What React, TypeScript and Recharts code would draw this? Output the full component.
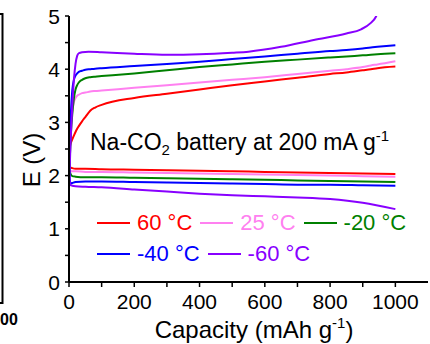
import React from "react";
import { LineChart, Line, XAxis, YAxis, Legend } from "recharts";

// ---------- data ----------
const seriesLabels = ["60 °C", "25 °C", "-20 °C", "-40 °C", "-60 °C"];
const seriesColors = ["#ff0000", "#ff80f0", "#008000", "#0000ff", "#8800ff"];

const dischargeCap = [0, 2, 5, 10, 20, 50, 100, 200, 300, 400, 500, 600, 700, 800, 900, 1000];
const dis60 = [2.6, 2.25, 2.15, 2.14, 2.13, 2.13, 2.12, 2.11, 2.1, 2.09, 2.08, 2.07, 2.06, 2.05, 2.04, 2.03];
const dis25 = [2.5, 2.15, 2.09, 2.08, 2.08, 2.07, 2.07, 2.06, 2.05, 2.04, 2.03, 2.02, 2.01, 2.0, 1.99, 1.98];
const disM20 = [2.4, 2.1, 2.03, 1.99, 1.98, 1.97, 1.97, 1.96, 1.95, 1.94, 1.93, 1.92, 1.91, 1.9, 1.89, 1.88];
const disM40 = [2.3, 1.95, 1.85, 1.86, 1.88, 1.89, 1.89, 1.88, 1.87, 1.86, 1.85, 1.84, 1.83, 1.83, 1.82, 1.81];
const disM60 = [2.1, 1.9, 1.82, 1.81, 1.8, 1.79, 1.78, 1.74, 1.7, 1.66, 1.63, 1.61, 1.59, 1.56, 1.49, 1.37];

const chargeCap = [0, 3, 6, 10, 15, 20, 25, 30, 40, 50, 65, 80, 100, 200, 300, 400, 500, 600, 700, 800, 850, 900, 925, 945, 1000];
const chg60 = [2.15, 2.55, 2.62, 2.68, 2.75, 2.82, 2.88, 2.93, 3.02, 3.1, 3.22, 3.28, 3.33, 3.46, 3.54, 3.62, 3.7, 3.77, 3.84, 3.91, 3.94, 3.98, 4.0, 4.02, 4.05];
const chg25 = [2.08, 2.6, 2.95, 3.2, 3.38, 3.46, 3.5, 3.52, 3.55, 3.56, 3.58, 3.59, 3.6, 3.65, 3.7, 3.75, 3.8, 3.85, 3.91, 3.97, 4.0, 4.04, 4.07, 4.09, 4.15];
const chgM20 = [1.98, 2.4, 2.8, 3.15, 3.45, 3.62, 3.7, 3.75, 3.8, 3.83, 3.85, 3.86, 3.87, 3.92, 3.98, 4.04, 4.09, 4.14, 4.18, 4.22, 4.24, 4.26, 4.27, 4.28, 4.3];
const chgM40 = [1.86, 2.6, 3.2, 3.6, 3.8, 3.88, 3.92, 3.95, 3.97, 3.99, 4.0, 4.01, 4.02, 4.06, 4.1, 4.14, 4.19, 4.24, 4.29, 4.34, 4.36, 4.39, 4.41, 4.42, 4.45];

const chargeCapM60 = [0, 3, 6, 10, 15, 20, 25, 30, 40, 60, 100, 200, 300, 400, 500, 550, 650, 750, 850, 895, 925, 940, 945];
const chgM60 = [1.8, 2.3, 2.8, 3.3, 3.8, 4.1, 4.25, 4.3, 4.32, 4.33, 4.32, 4.29, 4.27, 4.28, 4.31, 4.33, 4.42, 4.55, 4.67, 4.75, 4.87, 4.98, 5.05];

const xTicks = [0, 100, 200, 300, 400, 500, 600, 700, 800, 900, 1000];
const yTicks = [0, 0.5, 1, 1.5, 2, 2.5, 3, 3.5, 4, 4.5, 5];

const zip = (xs: number[], ys: number[]) => xs.map((c, i) => ({ cap: c, v: ys[i] }));

const discharge = [
  zip(dischargeCap, dis60),
  zip(dischargeCap, dis25),
  zip(dischargeCap, disM20),
  zip(dischargeCap, disM40),
  zip(dischargeCap, disM60),
];
const charge = [
  zip(chargeCap, chg60),
  zip(chargeCap, chg25),
  zip(chargeCap, chgM20),
  zip(chargeCap, chgM40),
  zip(chargeCapM60, chgM60),
];

const FONT = "'Liberation Sans', Arial, sans-serif";

const XTick = (props: any) => {
  const { x, y, payload } = props;
  if (payload.value % 200 !== 0) return <g />;
  return (
    <text x={x} y={y + 20} textAnchor="middle" fontSize={21} fontFamily={FONT} fill="#000">
      {payload.value}
    </text>
  );
};

const YTick = (props: any) => {
  const { x, y, payload } = props;
  if (payload.value % 1 !== 0) return <g />;
  return (
    <text x={x - 3} y={y + 7.5} textAnchor="end" fontSize={21} fontFamily={FONT} fill="#000">
      {payload.value}
    </text>
  );
};

const LegendContent = () => {
  const rows = [[0, 1, 2], [3, 4]];
  return (
    <div style={{ fontFamily: FONT }}>
      {rows.map((row, ri) => (
        <div key={ri} style={{ display: "flex", alignItems: "center", height: 31 }}>
          {row.map((i) => (
            <div key={i} style={{ display: "flex", alignItems: "center", marginRight: 8 }}>
              <span style={{ display: "inline-block", width: 33, height: 2, background: seriesColors[i], marginRight: 7 }} />
              <span style={{ fontSize: 22, color: seriesColors[i], whiteSpace: "nowrap" }}>{seriesLabels[i]}</span>
            </div>
          ))}
        </div>
      ))}
    </div>
  );
};

export default function App() {
  return (
    <div style={{ position: "absolute", left: 0, top: 0, width: 430, height: 344, background: "#fff", overflow: "hidden" }}>
      <LineChart width={430} height={344} margin={{ top: 16, right: 2, bottom: 0, left: 0 }}>
        <XAxis
          dataKey="cap"
          type="number"
          domain={[0, 1100]}
          ticks={xTicks}
          height={62}
          tickSize={5}
          tick={<XTick />}
          tickLine={{ stroke: "#000", strokeWidth: 1.5 }}
          axisLine={{ stroke: "#000", strokeWidth: 2 }}
          interval={0}
          label={{
            content: () => (
              <text x={254} y={338} textAnchor="middle" fontSize={24} fontFamily={FONT} fill="#000">
                Capacity (mAh g
                <tspan dy={-10} fontSize={15}>-1</tspan>
                <tspan dy={10}>)</tspan>
              </text>
            ),
          }}
        />
        <XAxis xAxisId="top" orientation="top" type="number" domain={[0, 1100]} height={0} tick={false} tickLine={false} axisLine={{ stroke: "#000", strokeWidth: 2 }} />
        <YAxis
          type="number"
          domain={[0, 5]}
          allowDataOverflow
          ticks={yTicks}
          width={69}
          tickSize={4}
          tick={<YTick />}
          tickLine={{ stroke: "#000", strokeWidth: 1.5 }}
          axisLine={{ stroke: "#000", strokeWidth: 2 }}
          interval={0}
          label={{
            content: () => (
              <text transform="translate(40,160) rotate(-90)" textAnchor="middle" fontSize={24} fontFamily={FONT} fill="#000">
                E (V)
              </text>
            ),
          }}
        />
        <YAxis yAxisId="right" orientation="right" type="number" domain={[0, 5]} width={0} tick={false} tickLine={false} axisLine={{ stroke: "#000", strokeWidth: 2 }} />
        {discharge.map((d, i) => (
          <Line key={"d" + i} data={d} dataKey="v" type="monotone" stroke={seriesColors[i]} strokeWidth={2} dot={false} isAnimationActive={false} legendType="none" />
        ))}
        {charge.map((d, i) => (
          <Line key={"c" + i} data={d} dataKey="v" type="monotone" stroke={seriesColors[i]} strokeWidth={2} dot={false} isAnimationActive={false} name={seriesLabels[i]} />
        ))}
        <Legend
          layout="horizontal"
          verticalAlign="middle"
          align="center"
          wrapperStyle={{ left: 97, top: 207, width: 330 }}
          content={<LegendContent />}
        />
      </LineChart>
      <svg width={430} height={344} style={{ position: "absolute", left: 0, top: 0, pointerEvents: "none" }}>
        <path d="M-2,14 L2.5,14 L2.5,303 L-2,303" fill="none" stroke="#000" strokeWidth={2} />
        <text x={0} y={325} fontSize={16} fontWeight="bold" fontFamily={FONT} fill="#000">00</text>
        <text x={90} y={150} fontSize={23} fontFamily={FONT} fill="#000">
          Na-CO
          <tspan dy={5} fontSize={15}>2</tspan>
          <tspan dy={-5}>{" battery at 200 mA g"}</tspan>
          <tspan dy={-9} fontSize={15}>-1</tspan>
        </text>
      </svg>
    </div>
  );
}
